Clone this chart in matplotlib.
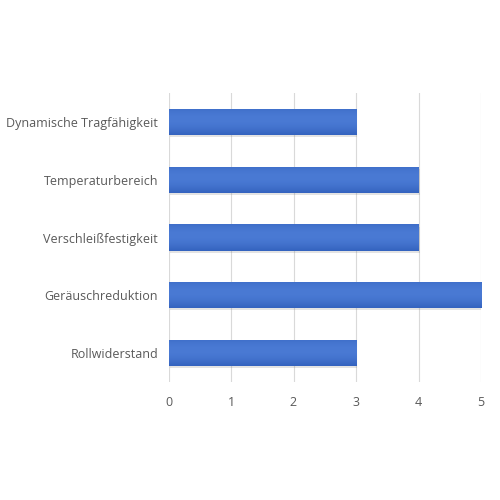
import matplotlib
matplotlib.use("Agg")
import matplotlib.pyplot as plt
import matplotlib.patheffects as pe
import numpy as np
from matplotlib.colors import LinearSegmentedColormap

categories = ["Dynamische Tragfähigkeit", "Temperaturbereich", "Verschleißfestigkeit",
              "Geräuschreduktion", "Rollwiderstand"]
values = [3, 4, 4, 5, 3]
xticks = [0, 1, 2, 3, 4, 5]

plt.rcParams['font.family'] = ['Open Sans', 'DejaVu Sans']

fig = plt.figure(figsize=(5, 5), dpi=100)
ax = fig.add_axes([0.337, 0.236, 0.625, 0.578])

ypos = np.arange(len(categories))
bars = ax.barh(ypos, values, height=0.45, color="#3c6cc9", zorder=3,
               path_effects=[pe.SimplePatchShadow(offset=(1.0, -1.5), shadow_rgbFace="#808080", alpha=0.22),
                             pe.Normal()])

cmap = LinearSegmentedColormap.from_list("g", ["#3463bf", "#4a7ad4"])
for b in bars:
    x0, y0 = b.get_x(), b.get_y()
    w, h = b.get_width(), b.get_height()
    prof = np.sin(np.linspace(0.15, np.pi - 0.6, 50)).reshape(-1, 1)
    im = ax.imshow(prof, extent=[x0, x0 + w, y0 + h, y0], aspect='auto', cmap=cmap, zorder=4,
                   interpolation='bilinear', origin='lower')
    im.set_clip_path(b)

ax.set_xlim(0, 5)
ax.set_ylim(len(categories) - 0.5, -0.5)
ax.set_yticks(ypos)
ax.set_yticklabels(categories)
ax.set_xticks(xticks)
ax.set_xticklabels([str(t) for t in xticks])
ax.tick_params(axis='both', length=0, colors="#595959", labelsize=9)
ax.tick_params(axis='y', pad=7.5)
ax.tick_params(axis='x', pad=10)
for s in ax.spines.values():
    s.set_visible(False)
ax.grid(axis='x', color="#d9d9d9", linewidth=0.8, zorder=0)
ax.set_axisbelow(True)

fig.savefig("out.png", dpi=100, facecolor="white")
